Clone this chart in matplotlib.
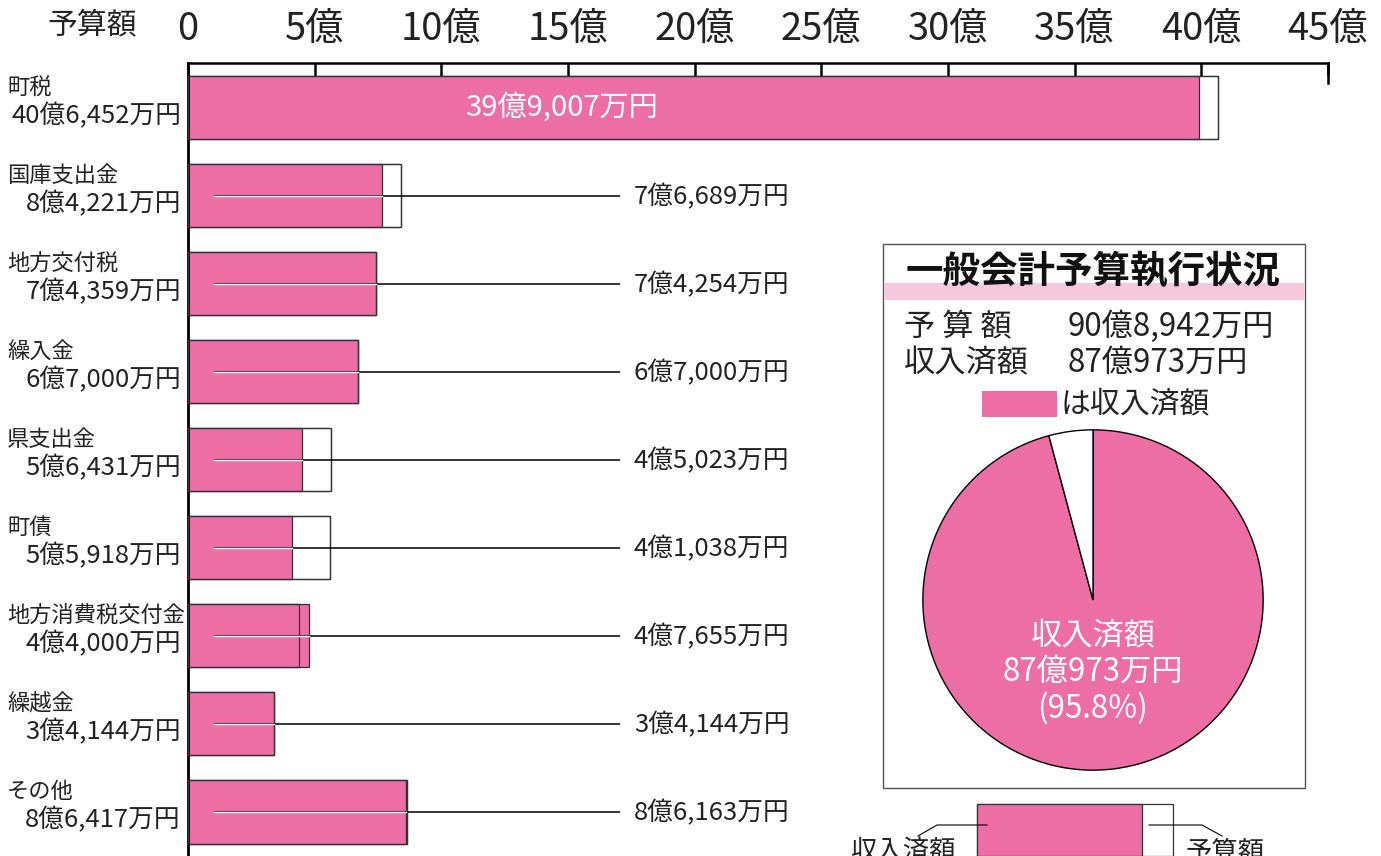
import matplotlib
matplotlib.use("Agg")
import matplotlib.pyplot as plt
import matplotlib.transforms as mtrans
from matplotlib.patches import Rectangle
from matplotlib.lines import Line2D

plt.rcParams["font.family"] = ["Noto Sans CJK JP", "DejaVu Sans"]

# 単位: 億円
categories = ["町税", "国庫支出金", "地方交付税", "繰入金", "県支出金", "町債",
              "地方消費税交付金", "繰越金", "その他"]
budget = [40.6452, 8.4221, 7.4359, 6.7000, 5.6431, 5.5918, 4.4000, 3.4144, 8.6417]
received = [39.9007, 7.6689, 7.4254, 6.7000, 4.5023, 4.1038, 4.7655, 3.4144, 8.6163]
budget_labels = ["40億6,452万円", "8億4,221万円", "7億4,359万円", "6億7,000万円",
                 "5億6,431万円", "5億5,918万円", "4億4,000万円", "3億4,144万円",
                 "8億6,417万円"]
received_labels = ["39億9,007万円", "7億6,689万円", "7億4,254万円", "6億7,000万円",
                   "4億5,023万円", "4億1,038万円", "4億7,655万円", "3億4,144万円",
                   "8億6,163万円"]
xticks = [0, 5, 10, 15, 20, 25, 30, 35, 40, 45]
xtick_labels = ["0"] + [f"{v}億" for v in xticks[1:]]

total_budget = 90.8942
total_received = 87.0973
pie_values = [total_received, total_budget - total_received]

PINK = "#EC6EA4"
LIGHT_PINK = "#F6C8DC"
EDGE = "#333333"
TXT = "#222222"

W, H = 1381, 856
fx = lambda x: x / W
fy = lambda y: 1 - y / H

fig = plt.figure(figsize=(W / 100, H / 100), dpi=100)

# ── 棒グラフ ──
ax = fig.add_axes([fx(188), 0, (1328 - 188) / W, (H - 63) / H])
ax.set_xlim(0, 45)
ax.set_ylim(8.5, -0.511)
rows = range(len(categories))
ax.barh(rows, budget, height=0.716, color="white", edgecolor=EDGE, linewidth=0.9, zorder=1)
ax.barh(rows, received, height=0.716, color=PINK, edgecolor=EDGE, linewidth=0.9, zorder=2)
ax.barh(rows, budget, height=0.716, color="none", edgecolor=EDGE, linewidth=0.9, zorder=3)

for i in rows:
    if i == 0:
        ax.text(14.75, i, received_labels[i], color="white", fontsize=21,
                ha="center", va="center", zorder=5)
        continue
    ax.plot([1.03, 17.05], [i, i], color="black", lw=1.1, zorder=4, solid_capstyle="butt")
    ax.plot([1.03, received[i]], [i, i], color="white", lw=1.0, zorder=4.5)
    ax.text(17.6, i + 0.01, received_labels[i], fontsize=18.5, ha="left", va="center",
            color=TXT)

bt = mtrans.blended_transform_factory(fig.transFigure, ax.transData)
for i, (c, b) in enumerate(zip(categories, budget_labels)):
    ax.text(fx(7), i - 0.23, c, transform=bt, fontsize=16, ha="left", va="center",
            color=TXT)
    ax.text(fx(181), i + 0.09, b, transform=bt, fontsize=18.5, ha="right", va="center",
            color=TXT)

for s in ["right", "bottom"]:
    ax.spines[s].set_visible(False)
ax.spines["top"].set_linewidth(1.8)
ax.spines["left"].set_linewidth(2.0)
ax.xaxis.tick_top()
ax.set_xticks(xticks)
ax.set_xticklabels(xtick_labels, fontsize=27.5, color=TXT)
ax.tick_params(axis="x", direction="in", length=9, width=1.8, pad=10)
ax.set_yticks([])
ax.plot([45, 45], [-0.511, -0.284], color="black", lw=1.8, clip_on=False)
fig.text(fx(92), fy(25), "予算額", fontsize=21.5, ha="center", va="center", color=TXT)

# ── 一般会計予算執行状況 ──
fig.patches.append(Rectangle((fx(883), fy(788)), (1305 - 883) / W, (788 - 244) / H,
                             transform=fig.transFigure, fill=False, edgecolor="#555555", lw=1))
fig.patches.append(Rectangle((fx(884), fy(300)), (1304 - 884) / W, 17 / H,
                             transform=fig.transFigure, facecolor=LIGHT_PINK, edgecolor="none"))
fig.text(fx(1093), fy(271), "一般会計予算執行状況", fontsize=27, fontweight="bold",
         ha="center", va="center", color="#111111")
fig.text(fx(904), fy(327), "予 算 額", fontsize=22.5, ha="left", va="center", color=TXT)
fig.text(fx(1068), fy(327), "90億8,942万円", fontsize=22.5, ha="left", va="center", color=TXT)
fig.text(fx(904), fy(363), "収入済額", fontsize=22.5, ha="left", va="center", color=TXT)
fig.text(fx(1068), fy(363), "87億973万円", fontsize=22.5, ha="left", va="center", color=TXT)
fig.patches.append(Rectangle((fx(982), fy(417)), 75 / W, 26 / H,
                             transform=fig.transFigure, facecolor=PINK, edgecolor="none"))
fig.text(fx(1061), fy(404), "は収入済額", fontsize=21.5, ha="left", va="center", color=TXT)

r = 171
pax = fig.add_axes([fx(1093 - r), fy(600 + r), 2 * r / W, 2 * r / H])
pax.pie(pie_values, colors=[PINK, "white"], startangle=90, counterclock=False,
        wedgeprops=dict(edgecolor="black", linewidth=1.0))
pax.set_xlim(-1.005, 1.005)
pax.set_ylim(-1.005, 1.005)
pax.set_aspect("equal")
fig.text(fx(1093), fy(636), "収入済額", fontsize=22.5, color="white", ha="center", va="center")
fig.text(fx(1093), fy(672), "87億973万円", fontsize=22.5, color="white", ha="center", va="center")
fig.text(fx(1093), fy(708), "(95.8%)", fontsize=22.5, color="white", ha="center", va="center")

# ── 凡例(下) ──
fig.patches.append(Rectangle((fx(977), 0), (1173 - 977) / W, (H - 804) / H,
                             transform=fig.transFigure, facecolor="white", edgecolor=EDGE, lw=0.9))
fig.patches.append(Rectangle((fx(977), 0), (1142 - 977) / W, (H - 804) / H,
                             transform=fig.transFigure, facecolor=PINK, edgecolor=EDGE, lw=0.9))
fig.lines.append(Line2D([fx(918), fx(937), fx(987)], [fy(836), fy(825), fy(825)],
                        transform=fig.transFigure, color="black", lw=0.8))
fig.lines.append(Line2D([fx(1149), fx(1202), fx(1222)], [fy(825), fy(825), fy(836)],
                        transform=fig.transFigure, color="black", lw=0.8))
fig.text(fx(903), fy(838), "収入済額", fontsize=19, ha="center", va="top", color=TXT)
fig.text(fx(1225), fy(838), "予算額", fontsize=19, ha="center", va="top", color=TXT)

fig.savefig("out.png", dpi=100)
